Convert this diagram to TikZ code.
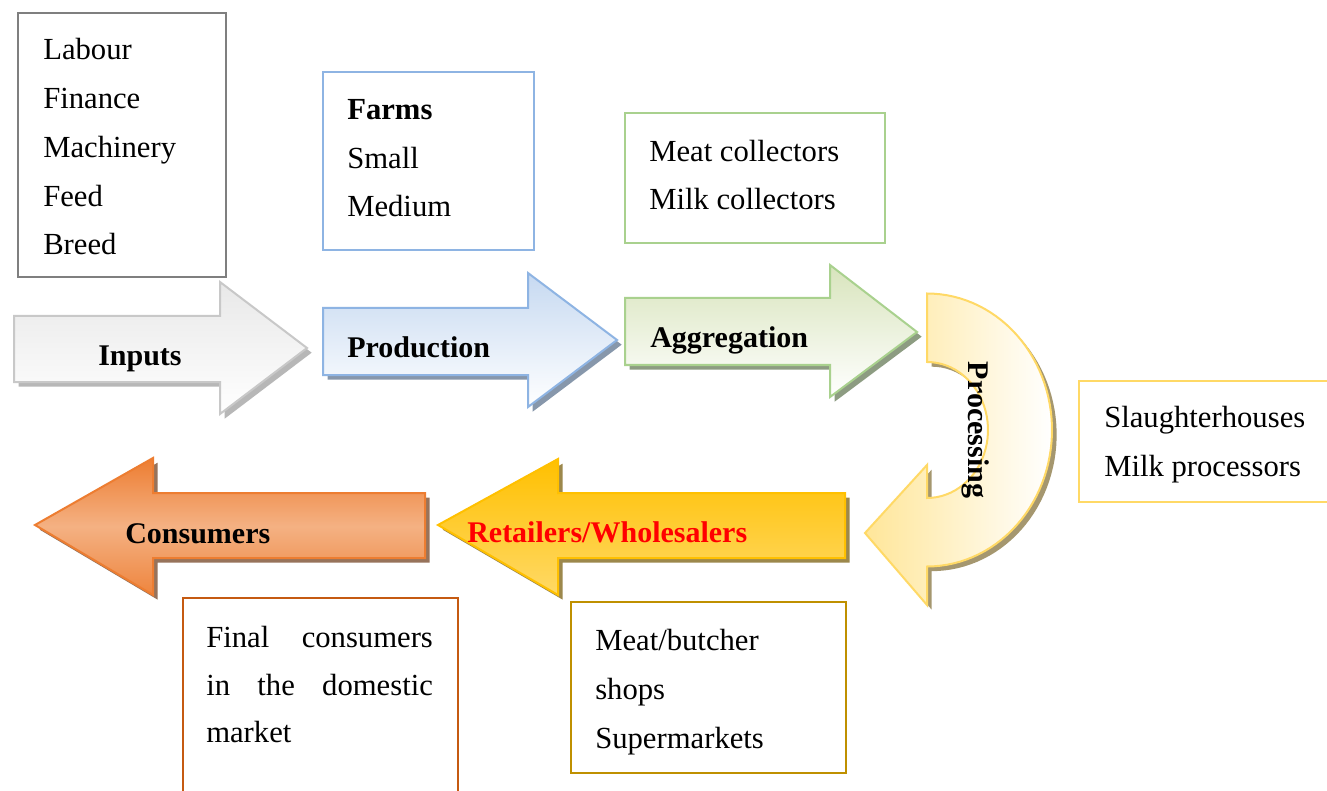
\documentclass[tikz,border=0pt]{standalone}
\usepackage{fontspec}
\setmainfont{Liberation Serif}
\usetikzlibrary{shadows, fit}

\definecolor{inputline}{HTML}{7F7F7F}
\definecolor{inputarrow}{HTML}{C8C8C8}
\definecolor{prodline}{HTML}{8EB4E3}
\definecolor{prodfill}{HTML}{C6D9F1}
\definecolor{aggline}{HTML}{A9D18E}
\definecolor{aggfill}{HTML}{D8E4BC}
\definecolor{procline}{HTML}{FFD966}
\definecolor{procfill}{HTML}{FFE699}
\definecolor{retline}{HTML}{FFC000}
\definecolor{retfill}{HTML}{FFD966}
\definecolor{retbox}{HTML}{BF9000}
\definecolor{conline}{HTML}{ED7D31}
\definecolor{conmid}{HTML}{F4B183}
\definecolor{conbox}{HTML}{C55A11}

\begin{document}
\begin{tikzpicture}[x=0.75pt, y=-0.75pt,
    item/.style={font=\fontsize{23}{28}\selectfont, anchor=base west, inner sep=0pt},
    stage/.style={font=\fontsize{22.5}{27}\selectfont\bfseries, anchor=base west, inner sep=0pt},
    infobox/.style={draw=#1, line width=1.5pt, inner sep=0pt},
    blockarrow/.style={line width=1.5pt},
    shadowed/.style={drop shadow={shadow xshift=3.5pt, shadow yshift=-3.5pt, fill=#1, opacity=0.7}}
    ]
    % Canvas
    \useasboundingbox (0,0) rectangle (1327,791);
    \fill[white] (0,0) rectangle (1327,791);
    \clip (0,0) rectangle (1327,791);

    % Upper row of arrows
    \path[blockarrow, shadowed=gray!80, draw=inputarrow, top color=gray!18, bottom color=white]
        (14,316) -- (220,316) -- (220,282) -- (307,348) -- (220,414) -- (220,382) -- (14,382) -- cycle;
    \path[blockarrow, shadowed=prodline!60!black, draw=prodline, top color=prodfill, bottom color=white]
        (323,308) -- (528,308) -- (528,273) -- (617,340) -- (528,407) -- (528,375) -- (323,375) -- cycle;
    \path[blockarrow, shadowed=aggline!55!black, draw=aggline, top color=aggfill, bottom color=white]
        (625,298) -- (830,298) -- (830,265) -- (917,332) -- (830,397) -- (830,365) -- (625,365) -- cycle;

    % Turning arrow
    \path[blockarrow, shadowed=procline!50!black, draw=procline, left color=procfill, right color=white]
        (927,294) -- plot[domain=-90:90, samples=60, variable=\t] ({927+125*cos(\t)}, {430+136.5*sin(\t)})
        -- (927,605) -- (865,533) -- (927,465) -- (927,498)
        -- plot[domain=90:-90, samples=40, variable=\t] ({927+61*cos(\t)}, {430+68*sin(\t)}) -- cycle;

    % Lower row of arrows
    \path[blockarrow, shadowed=retline!45!black, draw=retline, top color=retline, bottom color=retfill]
        (845,493) -- (558,493) -- (558,459) -- (438,525) -- (558,595) -- (558,558) -- (845,558) -- cycle;
    \path[blockarrow, shadowed=conline!45!black, draw=conline, top color=conline, bottom color=conline!85!conmid, middle color=conmid]
        (425,493) -- (153,493) -- (153,458) -- (35,525) -- (153,595) -- (153,558) -- (425,558) -- cycle;

    % Stage labels
    \node[stage] (inputs) at (98,365) {Inputs};
    \node[stage] (production) at (347,358) {Production};
    \node[stage] (aggregation) at (650,348) {Aggregation};
    \node[stage, anchor=base, rotate=-90] (processing) at (968,430) {Processing};
    \node[stage, text=red] (retailers) at (467,542) {Retailers/Wholesalers};
    \node[stage] (consumers) at (125,543) {Consumers};

    % Detail boxes
    \node[infobox=inputline, fit={(18,13) (226,277)}] (inputsbox) {};
    \node[infobox=prodline, fit={(323,72) (534,250)}] (productionbox) {};
    \node[infobox=aggline, fit={(625,113) (885,243)}] (aggregationbox) {};
    \node[infobox=procline, fit={(1079,381) (1345,502)}] (processingbox) {};
    \node[infobox=retbox, fit={(571,602) (846,773)}] (retailersbox) {};
    \node[infobox=conbox, fit={(183,598) (458,812)}] (consumersbox) {};

    % Box contents
    \foreach \t [count=\i] in {Labour, Finance, Machinery, Feed, Breed}
        \node[item] (inp\i) at (43,{60+48.75*(\i-1)}) {\t};
    \foreach \t [count=\i] in {{\textbf{Farms}}, Small, Medium}
        \node[item] (prod\i) at (347,{120+48.5*(\i-1)}) {\t};
    \foreach \t [count=\i] in {Meat collectors, Milk collectors}
        \node[item] (agg\i) at (649,{162+48*(\i-1)}) {\t};
    \foreach \t [count=\i] in {Slaughterhouses, Milk processors}
        \node[item] (proc\i) at (1104,{427+49*(\i-1)}) {\t};
    \foreach \t [count=\i] in {Meat/butcher, shops, Supermarkets}
        \node[item] (ret\i) at (595,{650+49*(\i-1)}) {\t};
    \node[item] (con1) at (206,647) {\makebox[170pt][s]{Final consumers}};
    \node[item] (con2) at (206,695) {\makebox[170pt][s]{in the domestic}};
    \node[item] (con3) at (206,742) {market};
\end{tikzpicture}
\end{document}
